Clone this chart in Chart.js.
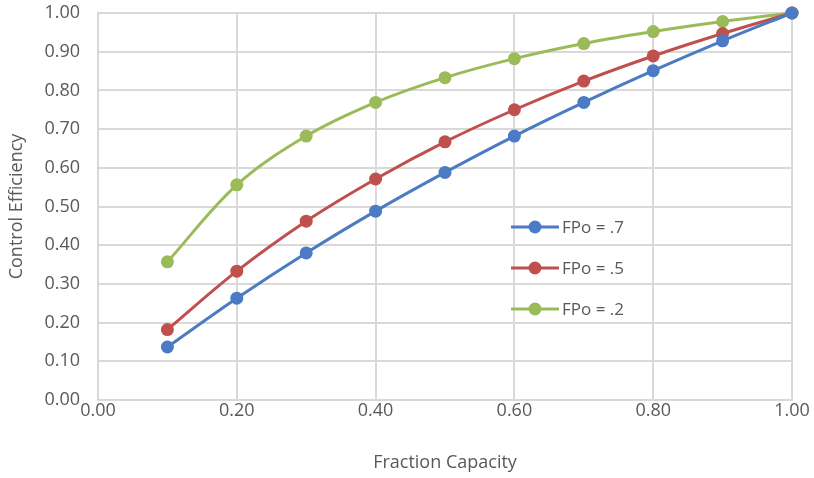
<!DOCTYPE html>
<html>
<head>
<meta charset="utf-8">
<script src="https://cdn.jsdelivr.net/npm/chart.js@4.4.0/dist/chart.umd.min.js"></script>
<style>
  html, body { margin: 0; padding: 0; background: #fff; }
  #wrap { width: 814px; height: 478px; }
</style>
</head>
<body>
<div id="wrap"><canvas id="effChart" width="814" height="478"></canvas></div>
<script>
// fraction capacity values
let capacity = [0.1, 0.2, 0.3, 0.4, 0.5, 0.6, 0.7, 0.8, 0.9, 1.0];

// control efficiency per FPo
let fpo7 = [0.137, 0.263, 0.380, 0.488, 0.588, 0.682, 0.769, 0.851, 0.928, 1.000];
let fpo5 = [0.182, 0.333, 0.462, 0.571, 0.667, 0.750, 0.824, 0.889, 0.947, 1.000];
let fpo2 = [0.357, 0.556, 0.682, 0.769, 0.833, 0.882, 0.921, 0.952, 0.978, 1.000];

let seriesNames = ['FPo = .7', 'FPo = .5', 'FPo = .2'];
let seriesColors = ['#4a7bc4', '#c0504d', '#9bbb59'];

let font = "'Open Sans', 'Noto Sans', sans-serif";
let textColor = '#595959';
let gridColor = '#d9d9d9';

function toPoints(ys) {
    return capacity.map((x, i) => ({ x: x, y: ys[i] }));
}

// legend drawn inside the plot, right of centre
const insideLegend = {
    id: 'insideLegend',
    afterDraw(chart) {
        let ctx = chart.ctx;
        let area = chart.chartArea;
        let x0 = area.left + 413;
        let y0 = area.top + 214;
        ctx.save();
        chart.data.datasets.forEach(function(ds, i) {
            let y = y0 + i * 41;
            ctx.strokeStyle = ds.borderColor;
            ctx.lineWidth = 3;
            ctx.beginPath();
            ctx.moveTo(x0, y);
            ctx.lineTo(x0 + 48, y);
            ctx.stroke();
            ctx.fillStyle = ds.backgroundColor;
            ctx.beginPath();
            ctx.arc(x0 + 24, y, 6.5, 0, Math.PI * 2);
            ctx.fill();
            ctx.fillStyle = textColor;
            ctx.font = '17px ' + font;
            ctx.textBaseline = 'middle';
            ctx.textAlign = 'left';
            ctx.fillText(ds.label, x0 + 51, y + 1);
        });
        ctx.restore();
    }
};

let datasets = [fpo7, fpo5, fpo2].map(function(vals, i) {
    return {
        label: seriesNames[i],
        data: toPoints(vals),
        borderColor: seriesColors[i],
        backgroundColor: seriesColors[i],
        borderWidth: 3,
        pointRadius: 6.5,
        pointHoverRadius: 6.5,
        pointBorderWidth: 0,
        tension: 0.35,
        clip: false
    };
});

let chart = new Chart(document.getElementById('effChart'), {
    type: 'line',
    data: { datasets: datasets },
    options: {
        responsive: false,
        animation: false,
        layout: { padding: { top: 13, right: 22, left: 0, bottom: 0 } },
        plugins: {
            legend: { display: false },
            tooltip: { enabled: false }
        },
        scales: {
            x: {
                type: 'linear',
                min: 0,
                max: 1,
                ticks: {
                    stepSize: 0.2,
                    color: textColor,
                    font: { family: font, size: 18 },
                    padding: 0,
                    callback: v => v.toFixed(2)
                },
                grid: { color: gridColor, lineWidth: 2, drawTicks: false },
                border: { color: gridColor, width: 2 },
                title: {
                    display: true,
                    text: 'Fraction Capacity',
                    color: textColor,
                    font: { family: font, size: 18 },
                    padding: { top: 13 }
                },
                afterFit(scale) { scale.height = 78; }
            },
            y: {
                min: 0,
                max: 1,
                ticks: {
                    stepSize: 0.1,
                    color: textColor,
                    font: { family: font, size: 18 },
                    padding: 18,
                    callback: v => v.toFixed(2)
                },
                grid: { color: gridColor, lineWidth: 2, drawTicks: false },
                border: { color: gridColor, width: 2 },
                title: {
                    display: true,
                    text: 'Control Efficiency',
                    color: textColor,
                    font: { family: font, size: 18 },
                    padding: { top: 6, bottom: 0 }
                },
                afterFit(scale) {
                    scale.width = 98;
                    scale.paddingTop = 0;
                    scale.paddingBottom = 0;
                }
            }
        }
    },
    plugins: [insideLegend]
});
</script>
</body>
</html>
